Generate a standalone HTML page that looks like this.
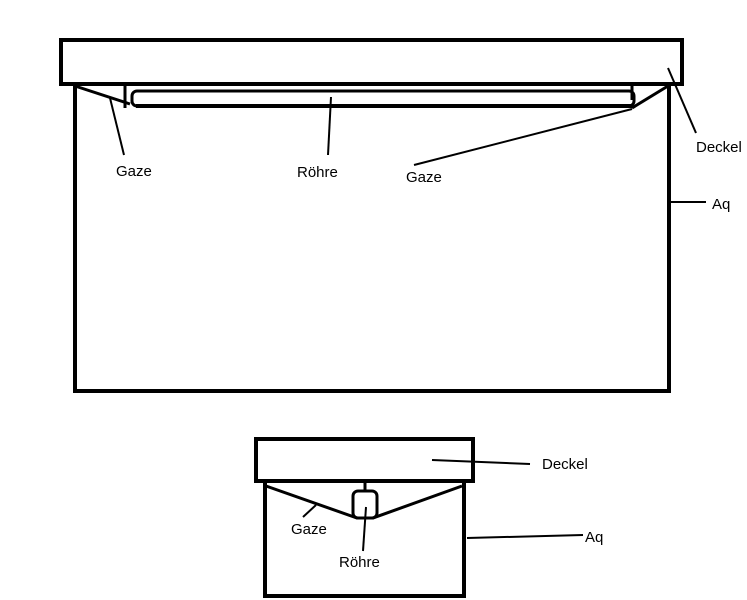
<!DOCTYPE html>
<html><head><meta charset="utf-8"><style>
html,body{margin:0;padding:0;background:#fff;}
svg{display:block}
text{font-family:"Liberation Sans",sans-serif;font-size:15px;fill:#000}
</style></head><body>
<svg width="747" height="600" viewBox="0 0 747 600" xmlns="http://www.w3.org/2000/svg">
<g fill="none" stroke="#000" stroke-width="4">
<rect x="61" y="40" width="621" height="44"/>
<path d="M75 86 V391 H669 V86"/>
</g>
<g fill="none" stroke="#000" stroke-width="3">
<line x1="75" y1="86" x2="130" y2="104"/>
<line x1="668" y1="86" x2="632" y2="108"/>
<line x1="125" y1="86" x2="125" y2="108"/>
<line x1="632" y1="86" x2="632" y2="100"/>
<rect x="132" y="91" width="502" height="15" rx="5"/>
<line x1="136" y1="106" x2="632" y2="106" stroke-width="4"/>
</g>
<g stroke="#000" stroke-width="2">
<line x1="110" y1="98" x2="124" y2="155"/>
<line x1="331" y1="97" x2="328" y2="155"/>
<line x1="632" y1="109" x2="414" y2="165"/>
<line x1="668" y1="68" x2="696" y2="133"/>
<line x1="670" y1="202" x2="706" y2="202"/>
</g>
<text x="116" y="176">Gaze</text>
<text x="297" y="177">Röhre</text>
<text x="406" y="182">Gaze</text>
<text x="696" y="152">Deckel</text>
<text x="712" y="209">Aq</text>

<g fill="none" stroke="#000" stroke-width="4">
<rect x="256" y="439" width="217" height="42"/>
<path d="M265 483 V596 H464 V483"/>
</g>
<g fill="none" stroke="#000" stroke-width="3">
<path d="M266 486 L357 518 L373 518 L462 486"/>
<rect x="353" y="491" width="24" height="27" rx="5"/>
<line x1="365" y1="483" x2="365" y2="491"/>
</g>
<g stroke="#000" stroke-width="2">
<line x1="303" y1="517" x2="316" y2="505"/>
<line x1="366" y1="507" x2="363" y2="551"/>
<line x1="432" y1="460" x2="530" y2="464"/>
<line x1="467" y1="538" x2="583" y2="535"/>
</g>
<text x="291" y="534">Gaze</text>
<text x="339" y="567">Röhre</text>
<text x="542" y="469">Deckel</text>
<text x="585" y="542">Aq</text>
</svg>
</body></html>
